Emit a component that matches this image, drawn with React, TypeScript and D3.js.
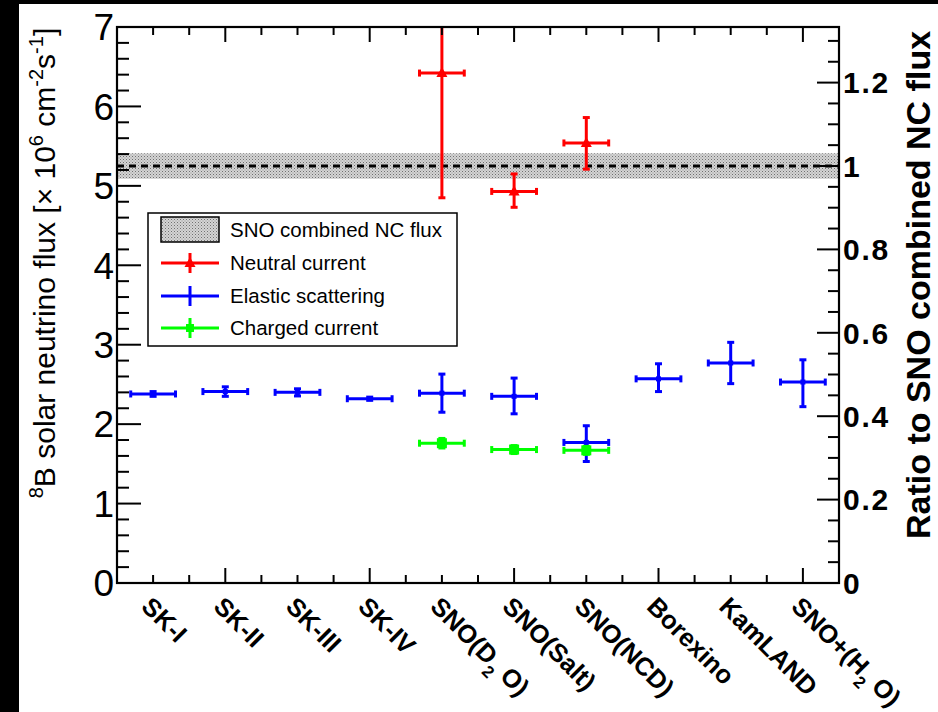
import React from "react";
import * as d3 from "d3";

// ---------- data ----------
const categories = [
  "SK-I", "SK-II", "SK-III", "SK-IV", "SNO(D_{2} O)",
  "SNO(Salt)", "SNO(NCD)", "Borexino", "KamLAND", "SNO+(H_{2} O)",
];

// Elastic scattering (blue)
const esValues = [2.38, 2.41, 2.40, 2.32, 2.39, 2.35, 1.77, 2.57, 2.77, 2.53];
const esErrUp = [0.03, 0.06, 0.045, 0.02, 0.24, 0.23, 0.21, 0.19, 0.26, 0.28];
const esErrDown = [0.03, 0.06, 0.045, 0.02, 0.24, 0.22, 0.24, 0.16, 0.26, 0.31];

// Neutral current (red)
const ncCategories = ["SNO(D_{2} O)", "SNO(Salt)", "SNO(NCD)"];
const ncValues = [6.42, 4.93, 5.54];
const ncErrUp = [1.57, 0.22, 0.32];
const ncErrDown = [1.57, 0.20, 0.33];

// Charged current (green)
const ccCategories = ["SNO(D_{2} O)", "SNO(Salt)", "SNO(NCD)"];
const ccValues = [1.76, 1.68, 1.67];
const ccErr = [0.06, 0.05, 0.05];

// SNO combined NC flux band
const ncCombined = 5.25;
const ncCombinedErr = 0.16;

const legendLabels = ["SNO combined NC flux", "Neutral current", "Elastic scattering", "Charged current"];
const leftTicks = [0, 1, 2, 3, 4, 5, 6, 7];
const rightTicks = [0, 0.2, 0.4, 0.6, 0.8, 1, 1.2];

const FONT = "'Liberation Sans', Arial, Helvetica, sans-serif";
const RED = "#ff0000";
const BLUE = "#0000ff";
const GREEN = "#00ff00";

function parseLabel(s: string) {
  const parts: { t: string; sub: boolean }[] = [];
  const re = /_\{([^}]*)\}/g;
  let last = 0;
  let m;
  while ((m = re.exec(s)) !== null) {
    if (m.index > last) parts.push({ t: s.slice(last, m.index), sub: false });
    parts.push({ t: m[1], sub: true });
    last = m.index + m[0].length;
  }
  if (last < s.length) parts.push({ t: s.slice(last), sub: false });
  return parts;
}

function ErrorBar({ cx, cy, hw, up, down, color }: any) {
  const cap = 3.5;
  return (
    <g stroke={color} strokeWidth={3}>
      <line x1={cx - hw} x2={cx + hw} y1={cy} y2={cy} />
      <line x1={cx - hw} x2={cx - hw} y1={cy - cap} y2={cy + cap} />
      <line x1={cx + hw} x2={cx + hw} y1={cy - cap} y2={cy + cap} />
      {up > 0.5 || down > 0.5 ? (
        <>
          <line x1={cx} x2={cx} y1={cy - up} y2={cy + down} />
          <line x1={cx - cap} x2={cx + cap} y1={cy - up} y2={cy - up} />
          <line x1={cx - cap} x2={cx + cap} y1={cy + down} y2={cy + down} />
        </>
      ) : null}
    </g>
  );
}

export default function App() {
  const W = 938, H = 712;
  const L = 117, R = 839, T = 27, B = 583;

  const x = d3.scaleBand<string>().domain(categories).range([L, R]).padding(0);
  const xu = d3.scaleLinear().domain([0, categories.length]).range([L, R]);
  const y = d3.scaleLinear().domain([0, 7]).range([B, T]);
  const yr = d3.scaleLinear().domain([0, 7 / ncCombined]).range([B, T]);

  const cx = (c: string) => (x(c) as number) + x.bandwidth() / 2;
  const hw = x.bandwidth() * 0.31;

  const leftMinor = d3.range(0, 36).map((k) => k * 0.2).filter((v) => v <= 7.0001);
  const rightMinor = d3.range(0, 27).map((k) => k * 0.05).filter((v) => v <= 7 / ncCombined);
  const xTicks = d3.range(1, categories.length * 2).map((k) => k * 0.5);

  const legendX = 148, legendY = 213, legendW = 309, legendH = 133;
  const rowY = [230, 263, 296, 328];

  return (
    <svg width={W} height={H} style={{ position: "absolute", left: 0, top: 0 }} fontFamily={FONT}>
      <defs>
        <pattern id="stipple" width={3} height={3} patternUnits="userSpaceOnUse">
          <rect width={3} height={3} fill="#d4d4d4" />
          <rect x={0} y={0} width={1} height={1} fill="#707070" />
          <rect x={1.5} y={1.5} width={1} height={1} fill="#909090" />
        </pattern>
        <clipPath id="plotClip">
          <rect x={L} y={T} width={R - L} height={B - T} />
        </clipPath>
      </defs>
      <rect width={W} height={H} fill="#000" />
      <rect x={19} y={4} width={W - 19} height={H - 4} fill="#fff" />

      <g clipPath="url(#plotClip)">
        <rect x={L} y={y(ncCombined + ncCombinedErr)} width={R - L}
          height={y(ncCombined - ncCombinedErr) - y(ncCombined + ncCombinedErr)} fill="url(#stipple)" />
        <line x1={L} x2={R} y1={y(ncCombined)} y2={y(ncCombined)} stroke="#000" strokeWidth={3} strokeDasharray="7,5" />

        {categories.map((c, i) => (
          <g key={"es" + i}>
            <ErrorBar cx={cx(c)} cy={y(esValues[i])} hw={hw}
              up={y(esValues[i]) - y(esValues[i] + esErrUp[i])}
              down={y(esValues[i] - esErrDown[i]) - y(esValues[i])} color={BLUE} />
            <rect x={cx(c) - 2.5} y={y(esValues[i]) - 2.5} width={5} height={5} fill={BLUE} />
          </g>
        ))}
        {ccCategories.map((c, i) => (
          <g key={"cc" + i}>
            <ErrorBar cx={cx(c)} cy={y(ccValues[i])} hw={hw}
              up={y(ccValues[i]) - y(ccValues[i] + ccErr[i])}
              down={y(ccValues[i] - ccErr[i]) - y(ccValues[i])} color={GREEN} />
            <rect x={cx(c) - 5} y={y(ccValues[i]) - 5} width={10} height={10} fill={GREEN} />
          </g>
        ))}
        {ncCategories.map((c, i) => {
          const px = cx(c), py = y(ncValues[i]);
          return (
            <g key={"nc" + i}>
              <ErrorBar cx={px} cy={py} hw={hw}
                up={py - y(ncValues[i] + ncErrUp[i])}
                down={y(ncValues[i] - ncErrDown[i]) - py} color={RED} />
              <path d={`M${px},${py - 6} L${px + 5.5},${py + 4} L${px - 5.5},${py + 4} Z`} fill={RED} />
            </g>
          );
        })}
      </g>

      <rect x={L} y={T} width={R - L} height={B - T} fill="none" stroke="#000" strokeWidth={2.2} />

      {leftMinor.map((v, i) => {
        const major = Math.abs(v - Math.round(v)) < 1e-6;
        return <line key={"lt" + i} x1={L} x2={L + (major ? 24 : 12)} y1={y(v)} y2={y(v)} stroke="#000" strokeWidth={2} />;
      })}
      {leftTicks.map((v) => (
        <text key={"ll" + v} x={114} y={y(v)} dy="0.36em" textAnchor="end" fontSize={37} fill="#000">{v}</text>
      ))}

      {rightMinor.map((v, i) => {
        const major = Math.abs(v / 0.2 - Math.round(v / 0.2)) < 1e-6;
        return <line key={"rt" + i} x1={R} x2={R - (major ? 22 : 11)} y1={yr(v)} y2={yr(v)} stroke="#000" strokeWidth={2} />;
      })}
      {rightTicks.map((v) => (
        <text key={"rl" + v} x={843} y={yr(v)} dy="0.36em" textAnchor="start" fontSize={30} fontWeight="bold"
          letterSpacing={1.8} fill="#000">{v}</text>
      ))}

      {xTicks.map((v, i) => {
        const long = (Math.round(v * 2) - 3) % 4 === 0;
        const len = long ? 15 : 8;
        return (
          <g key={"xt" + i} stroke="#000" strokeWidth={2}>
            <line x1={xu(v)} x2={xu(v)} y1={B} y2={B - len} />
            <line x1={xu(v)} x2={xu(v)} y1={T} y2={T + len} />
          </g>
        );
      })}

      {categories.map((c) => {
        const ax = cx(c) - 13, ay = 608;
        const parts = parseLabel(c);
        return (
          <text key={"xl" + c} transform={`translate(${ax},${ay}) rotate(45)`} fontSize={25.5} fontWeight="bold" fill="#000">
            {parts.map((p, j) =>
              p.sub ? (
                <tspan key={j} fontSize={17} dy={9}>{p.t}</tspan>
              ) : (
                <tspan key={j} dy={j > 0 && parts[j - 1].sub ? -9 : 0}>{p.t}</tspan>
              )
            )}
          </text>
        );
      })}

      <text transform="translate(55,263) rotate(-90)" textAnchor="middle" fontSize={30} fill="#000">
        <tspan fontSize={20} dy={-12}>8</tspan>
        <tspan dy={12}>B solar neutrino flux [× 10</tspan>
        <tspan fontSize={20} dy={-12}>6</tspan>
        <tspan dy={12}> cm</tspan>
        <tspan fontSize={20} dy={-12}>-2</tspan>
        <tspan dy={12}>s</tspan>
        <tspan fontSize={20} dy={-12}>-1</tspan>
        <tspan dy={12}>]</tspan>
      </text>

      <text transform="translate(930,285) rotate(-90)" textAnchor="middle" fontSize={34} fontWeight="bold" fill="#000">
        Ratio to SNO combined NC flux
      </text>

      <rect x={legendX} y={legendY} width={legendW} height={legendH} fill="#fff" stroke="#000" strokeWidth={1.5} />
      <rect x={161} y={217} width={58} height={25} fill="url(#stipple)" stroke="#000" strokeWidth={1.5} />
      {[RED, BLUE, GREEN].map((col, k) => {
        const ry = rowY[k + 1];
        return (
          <g key={"lg" + k}>
            <line x1={161} x2={219} y1={ry} y2={ry} stroke={col} strokeWidth={3} />
            <line x1={190} x2={190} y1={ry - 10} y2={ry + 10} stroke={col} strokeWidth={3} />
            {k === 0 && <path d={`M190,${ry - 6} L195.5,${ry + 4} L184.5,${ry + 4} Z`} fill={col} />}
            {k === 2 && <rect x={186} y={ry - 4} width={8} height={8} fill={col} />}
          </g>
        );
      })}
      {legendLabels.map((t, k) => (
        <text key={"lgt" + k} x={230} y={rowY[k]} dy="0.36em" fontSize={20.5} fill="#000">{t}</text>
      ))}
    </svg>
  );
}
